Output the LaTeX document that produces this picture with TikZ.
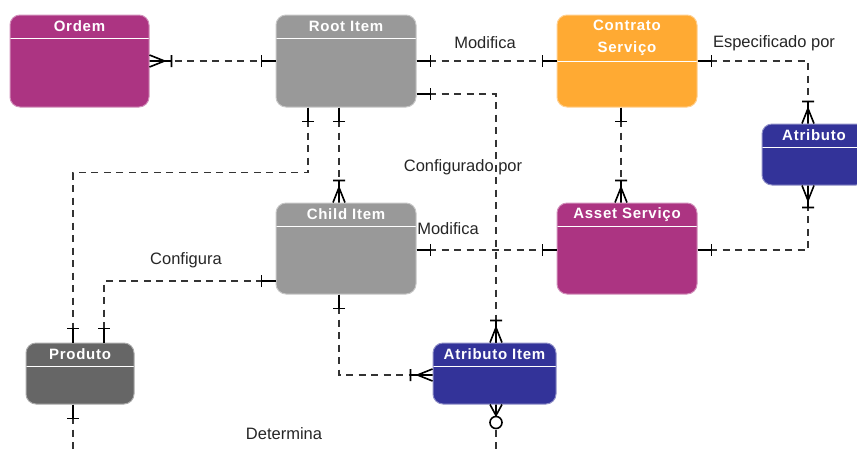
\documentclass[tikz,border=0pt]{standalone}
\usepackage{fontspec}
\setmainfont{Liberation Sans}
\newfontfamily\titlefont[LetterSpace=5]{Liberation Sans}
\usetikzlibrary{calc}

\definecolor{plum}{HTML}{AC3482}
\definecolor{ltgray}{HTML}{999999}
\definecolor{dkgray}{HTML}{666666}
\definecolor{amber}{HTML}{FFAA33}
\definecolor{indigo}{HTML}{333399}
\definecolor{linegray}{HTML}{333333}

% relationship end marks: #1 = point on the box edge, #2 = direction away from the box
\newcommand{\oneend}[2]{%
  \begin{scope}[shift={(#1)}, rotate=#2]
    \draw[tick] (0,0) -- (14,0) (14,-6) -- (14,6);
  \end{scope}}
\newcommand{\manyend}[2]{%
  \begin{scope}[shift={(#1)}, rotate=#2]
    \draw[tick] (0,0) -- (22,0) (22,-6) -- (22,6)
      (0,-6) -- (15,0) -- (0,6);
  \end{scope}}
\newcommand{\zmanyend}[2]{%
  \begin{scope}[shift={(#1)}, rotate=#2]
    \draw[tick] (0,0) -- (11,0) (0,-6) -- (11,0) -- (0,6);
    \draw[tick, fill=white] (18,0) circle (6pt);
  \end{scope}}

\begin{document}
\begin{tikzpicture}[
  x=1pt, y=-1pt,
  entity/.style 2 args={
    draw=#1!55!white, line width=1pt, fill=#1, rounded corners=10pt,
    path picture={\draw[white, line width=1pt]
      ([yshift=-#2]path picture bounding box.north west) --
      ([yshift=-#2]path picture bounding box.north east);}
  },
  title/.style={text=white, font=\titlefont\bfseries\fontsize{15}{22}\selectfont,
    align=center, inner sep=0pt},
  rel/.style={draw=linegray, line width=1.3pt, dash pattern=on 7pt off 5.5pt},
  tick/.style={draw=black, line width=1.6pt, solid},
  lbl/.style={font=\fontsize{16.5}{20}\selectfont, text=black!85, inner sep=0pt},
]

\useasboundingbox (0,0) rectangle (857,451);
\clip (0,0) rectangle (857,451);

% =============================================
% Entities
% =============================================
\node[entity={plum}{23pt}, minimum width=139pt, minimum height=92pt]
  (ordem) at (79.5,61) {};
\node[entity={ltgray}{23pt}, minimum width=140pt, minimum height=92pt]
  (root) at (346,61) {};
\node[entity={amber}{46pt}, minimum width=140pt, minimum height=92pt]
  (contrato) at (627,61) {};
\node[entity={indigo}{23pt}, minimum width=104pt, minimum height=61pt]
  (atributo) at (814,154.5) {};
\node[entity={ltgray}{23pt}, minimum width=140pt, minimum height=91pt]
  (child) at (346,248.5) {};
\node[entity={plum}{23pt}, minimum width=140pt, minimum height=91pt]
  (asset) at (627,248.5) {};
\node[entity={dkgray}{23pt}, minimum width=108pt, minimum height=61pt]
  (produto) at (80,373.5) {};
\node[entity={indigo}{23pt}, minimum width=123pt, minimum height=61pt]
  (atitem) at (494.5,373.5) {};

% Titles
\node[title] at ([yshift=-12pt]ordem.north) {Ordem};
\node[title] at ([yshift=-12pt]root.north) {Root Item};
\node[title] at ([yshift=-23pt]contrato.north) {Contrato\\Serviço};
\node[title] at ([yshift=-12pt]atributo.north) {Atributo};
\node[title] at ([yshift=-12pt]child.north) {Child Item};
\node[title] at ([yshift=-12pt]asset.north) {Asset Serviço};
\node[title] at ([yshift=-12pt]produto.north) {Produto};
\node[title] at ([yshift=-12pt]atitem.north) {Atributo Item};

% =============================================
% Relationships
% =============================================

% Ordem -- Root Item
\draw[rel] (ordem.east) -- (root.west);
\manyend{ordem.east}{0}
\oneend{root.west}{180}

% Root Item -- Contrato Servico
\draw[rel] (root.east) -- (contrato.west);
\oneend{root.east}{0}
\oneend{contrato.west}{180}

% Root Item -> Atributo Item (configurado por)
\draw[rel] ([yshift=-33pt]root.east) -| ([xshift=1.5pt]atitem.north);
\oneend{[yshift=-33pt]root.east}{0}
\manyend{[xshift=1.5pt]atitem.north}{90}

% Root Item -> Produto
\draw[rel] ([xshift=-38pt]root.south) -- ++(0,65) -| ([xshift=-7pt]produto.north);
\oneend{[xshift=-38pt]root.south}{270}
\oneend{[xshift=-7pt]produto.north}{90}

% Root Item -> Child Item
\draw[rel] ([xshift=-7pt]root.south) -- ([xshift=-7pt]child.north);
\oneend{[xshift=-7pt]root.south}{270}
\manyend{[xshift=-7pt]child.north}{90}

% Child Item -> Produto (configura)
\draw[rel] ([yshift=-32.5pt]child.west) -| ([xshift=24pt]produto.north);
\oneend{[yshift=-32.5pt]child.west}{180}
\oneend{[xshift=24pt]produto.north}{90}

% Child Item -- Asset Servico
\draw[rel] ([yshift=-1.5pt]child.east) -- ([yshift=-1.5pt]asset.west);
\oneend{[yshift=-1.5pt]child.east}{0}
\oneend{[yshift=-1.5pt]asset.west}{180}

% Contrato Servico -- Asset Servico
\draw[rel] ([xshift=-6pt]contrato.south) -- ([xshift=-6pt]asset.north);
\oneend{[xshift=-6pt]contrato.south}{270}
\manyend{[xshift=-6pt]asset.north}{90}

% Contrato Servico -> Atributo (especificado por)
\draw[rel] (contrato.east) -| ([xshift=-6pt]atributo.north);
\oneend{contrato.east}{0}
\manyend{[xshift=-6pt]atributo.north}{90}

% Asset Servico -> Atributo
\draw[rel] ([yshift=-1.5pt]asset.east) -| ([xshift=-6pt]atributo.south);
\oneend{[yshift=-1.5pt]asset.east}{0}
\manyend{[xshift=-6pt]atributo.south}{270}

% Child Item -> Atributo Item
\draw[rel] ([xshift=-7pt]child.south) |- ([yshift=-1.5pt]atitem.west);
\oneend{[xshift=-7pt]child.south}{270}
\manyend{[yshift=-1.5pt]atitem.west}{180}

% Atributo Item and Produto continue below the frame
\coordinate (atdown) at (496,470);
\coordinate (prdown) at (73,470);
\draw[rel] ([xshift=1.5pt]atitem.south) -- (atdown);
\zmanyend{[xshift=1.5pt]atitem.south}{270}
\draw[rel] ([xshift=-7pt]produto.south) -- (prdown);
\oneend{[xshift=-7pt]produto.south}{270}

% Labels
\node[lbl] at (485,43) {Modifica};
\node[lbl] at (774,43) {Especificado por};
\node[lbl] at (463,167) {Configurado por};
\node[lbl] at (448,229) {Modifica};
\node[lbl] at (186,260) {Configura};
\node[lbl] at (284,434) {Determina};

\end{tikzpicture}
\end{document}
